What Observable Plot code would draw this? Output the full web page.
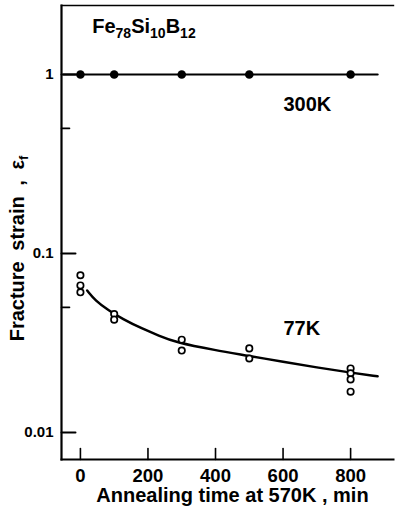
<!DOCTYPE html>
<html><head><meta charset="utf-8">
<script src="https://cdn.jsdelivr.net/npm/d3@7"></script>
<script src="https://cdn.jsdelivr.net/npm/@observablehq/plot@0.6"></script>
<style>
html,body{margin:0;padding:0;background:#fff;}
</style></head><body><div id="chart"></div>
<script>
// ---- data ----
const xTicks = [0, 200, 400, 600, 800];
const yTicks = [1, 0.1, 0.01];
const yMinorTicks = [0.5, 0.05];

// 300 K measurements (filled dots) and fitted line
const times300 = [0, 100, 300, 500, 800];
const strain300 = [1, 1, 1, 1, 1];
const fit300Time = [-50, 880];
const fit300Strain = [1, 1];

// 77 K measurements (open circles) and fitted curve
const times77 = [0, 0, 0, 100, 100, 300, 300, 500, 500, 800, 800, 800, 800];
const strain77 = [0.0756, 0.0663, 0.0607, 0.0459, 0.0427, 0.0330, 0.0287, 0.0295, 0.0259, 0.0228, 0.0214, 0.0198, 0.0169];
const fit77Time = [20, 44, 84, 124, 183, 232, 281, 400, 500, 600, 700, 800, 880];
const fit77Strain = [0.0621, 0.0546, 0.0480, 0.0432, 0.0380, 0.0348, 0.0319, 0.0288, 0.0268, 0.0248, 0.0231, 0.0216, 0.0206];

// annotations
const noteText = ["Fe78Si10B12", "300K", "77K"];
const noteTime = [35, 601, 601];
const noteStrain = [1.86, 0.676, 0.0381];

const xLabel = "Annealing time at 570K , min";
const yLabel = "Fracture strain , εf";

// ---- build tables ----
const zip = (a, b) => a.map((v, i) => ({t: v, s: b[i]}));
const pts300 = zip(times300, strain300);
const line300 = zip(fit300Time, fit300Strain);
const pts77 = zip(times77, strain77);
const curve77 = zip(fit77Time, fit77Strain);
const notes = noteText.map((txt, i) => ({txt, t: noteTime[i], s: noteStrain[i]}));

const font = "'Liberation Sans', Arial, sans-serif";
// straight tick shape for inward ticks
const tickShape = {draw(context, l) { context.moveTo(0, 0); context.lineTo(0, -l); }};

const chart = Plot.plot({
  width: 395,
  height: 508,
  marginLeft: 61,
  marginRight: 2,
  marginTop: 5,
  marginBottom: 49,
  style: {fontFamily: font, fontWeight: "bold", color: "black", background: "white"},
  x: {domain: [-56, 927]},
  y: {type: "log", domain: [0.007065, 2.43]},
  marks: [
    Plot.frame({anchor: "left", strokeWidth: 2.2}),
    Plot.frame({anchor: "bottom", strokeWidth: 2}),
    Plot.frame({anchor: "top", strokeWidth: 1.4}),
    Plot.axisY(yTicks, {tickSize: 0, tickPadding: 8, fontSize: 15, label: null, tickFormat: d => String(d)}),
    Plot.vector(yTicks, {y: d => d, frameAnchor: "left", rotate: 90, length: 14, anchor: "start", shape: tickShape, stroke: "black", strokeWidth: 2}),
    Plot.vector(yMinorTicks, {y: d => d, frameAnchor: "left", rotate: 90, length: 8, anchor: "start", shape: tickShape, stroke: "black", strokeWidth: 1.6}),
    Plot.axisX(xTicks, {tickSize: 0, tickPadding: 9, fontSize: 18.5, label: null}),
    Plot.vector(xTicks, {x: d => d, frameAnchor: "bottom", rotate: 0, length: 11, anchor: "start", shape: tickShape, stroke: "black", strokeWidth: 1.6}),
    Plot.text([xLabel], {frameAnchor: "bottom", lineAnchor: "middle", dy: 36, dx: 5, fontSize: 20, fontWeight: "bold"}),
    Plot.text([yLabel], {frameAnchor: "left", textAnchor: "middle", lineAnchor: "middle", rotate: -90, dx: -44, dy: 16, fontSize: 20, fontWeight: "bold"}),
    Plot.line(line300, {x: "t", y: "s", stroke: "black", strokeWidth: 2.2}),
    Plot.dot(pts300, {x: "t", y: "s", r: 4.3, fill: "black"}),
    Plot.line(curve77, {x: "t", y: "s", curve: "basis", stroke: "black", strokeWidth: 2.5}),
    Plot.dot(pts77, {x: "t", y: "s", r: 3.2, stroke: "black", strokeWidth: 1.7, fill: "white"}),
    Plot.text(notes, {x: "t", y: "s", text: "txt", textAnchor: "start", fontSize: 20, fontWeight: "bold"})
  ]
});
document.getElementById("chart").appendChild(chart);

// subscripts as real text (tspans)
chart.querySelectorAll("text").forEach(el => {
  if (el.textContent === "Fe78Si10B12") {
    el.innerHTML = 'Fe<tspan dy="5" font-size="14">78</tspan><tspan dy="-5">Si</tspan><tspan dy="5" font-size="14">10</tspan><tspan dy="-5">B</tspan><tspan dy="5" font-size="14">12</tspan>';
  } else if (el.textContent === yLabel) {
    el.innerHTML = 'Fracture strain , ε<tspan dy="4" font-size="13">f</tspan>';
    el.setAttribute("word-spacing", "5");
  }
});
</script></body></html>
